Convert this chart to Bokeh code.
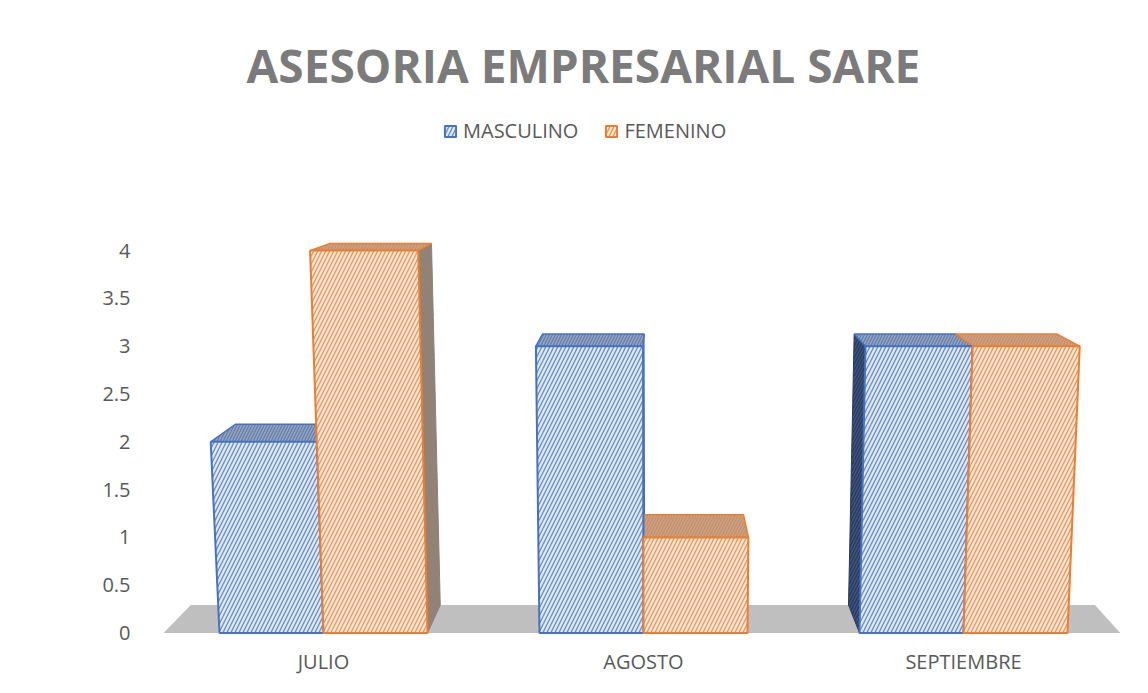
from bokeh.plotting import figure
from bokeh.models import Range1d, FixedTicker, Legend, LegendItem, Label
from bokeh.embed import file_html
from bokeh.resources import INLINE

# ---- data ----
months = ["JULIO", "AGOSTO", "SEPTIEMBRE"]
masculino = [2, 3, 3]
femenino = [4, 1, 3]
series_names = ["MASCULINO", "FEMENINO"]
y_ticks = [0, 0.5, 1, 1.5, 2, 2.5, 3, 3.5, 4]
y_tick_labels = ["0", "0.5", "1", "1.5", "2", "2.5", "3", "3.5", "4"]
title_text = "ASESORIA EMPRESARIAL SARE"

# ---- 3D look (styling geometry) ----
BAR_W = 0.325
VX, VY = 1.55, 5.33      # vanishing point in data units
DEPTH_S = 0.945          # back-plane scale
FAN = 0.01               # slight vertical fan
FLOOR_X = (0.0, 2.99)

def front(x, h):
    return VX + (x - VX) * (1 + FAN * h), h

def back(x, h):
    fx, fy = front(x, h)
    return VX + (fx - VX) * DEPTH_S, VY + (fy - VY) * DEPTH_S

def faces(xl, xr, v):
    f = [front(xl, 0), front(xr, 0), front(xr, v), front(xl, v)]
    t = [front(xl, v), front(xr, v), back(xr, v), back(xl, v)]
    r = [front(xr, 0), back(xr, 0), back(xr, v), front(xr, v)]
    l = [front(xl, 0), back(xl, 0), back(xl, v), front(xl, v)]
    return f, t, r, l

def split(polys):
    return [[q[0] for q in poly] for poly in polys], [[q[1] for q in poly] for poly in polys]

W, H = 1132, 677
p = figure(width=W, height=H, output_backend="svg", toolbar_location=None,
           x_range=Range1d(0, 3), y_range=Range1d(-0.047, 6.616),
           min_border_left=163, min_border_right=9, min_border_top=0, min_border_bottom=40)
p.grid.visible = False
p.outline_line_color = None
p.background_fill_color = "white"
p.border_fill_color = "white"

# floor
fl = [(FLOOR_X[0], 0), (FLOOR_X[1], 0), back(FLOOR_X[1], 0), back(FLOOR_X[0], 0)]
p.patch([q[0] for q in fl], [q[1] for q in fl], fill_color="#bfbfbf", line_color=None)

styles = {
    "MASCULINO": dict(line="#4472C4", fill="#e2e9f6", top="#9ea4ae", side="#2e3b56", side_hatch="#3f5f9a"),
    "FEMENINO": dict(line="#ED7D31", fill="#fde8da", top="#b3a79e", side="#8a827c", side_hatch="#a0826a"),
}

data = {"MASCULINO": masculino, "FEMENINO": femenino}
offsets = {"MASCULINO": -BAR_W, "FEMENINO": 0.0}

geo = {}
for name in series_names:
    fs, ts, ss = [], [], []
    for i, v in enumerate(data[name]):
        xl = i + 0.5 + offsets[name]
        xr = xl + BAR_W
        f, t, r, l = faces(xl, xr, v)
        fs.append(f); ts.append(t)
        if back(xr, 0)[0] > front(xr, 0)[0]:
            ss.append(r)
        if back(xl, 0)[0] < front(xl, 0)[0]:
            ss.append(l)
    geo[name] = (fs, ts, ss)

# sides
for name in series_names:
    st = styles[name]
    xs, ys = split(geo[name][2])
    if xs:
        p.patches(xs, ys, fill_color=st["side"], line_color=st["side"], line_width=1,
                  hatch_pattern="/", hatch_color=st["side_hatch"], hatch_scale=6, hatch_weight=1.2, hatch_alpha=0.8)
# tops
for name in series_names:
    st = styles[name]
    xs, ys = split(geo[name][1])
    p.patches(xs, ys, fill_color=st["top"], line_color=st["line"], line_width=1.5,
              hatch_pattern="/", hatch_color=st["line"], hatch_scale=6, hatch_weight=1.2, hatch_alpha=0.8)
# fronts
front_r = {}
for name in series_names:
    st = styles[name]
    xs, ys = split(geo[name][0])
    front_r[name] = p.patches(xs, ys, fill_color=st["fill"], line_color=st["line"], line_width=2,
                              hatch_pattern="/", hatch_color=st["line"], hatch_scale=8, hatch_weight=1.3, hatch_alpha=0.8)

# axes
FONT = "Open Sans"
p.yaxis.ticker = FixedTicker(ticks=y_ticks)
p.yaxis.major_label_overrides = {t: l for t, l in zip(y_ticks, y_tick_labels)}
p.xaxis.ticker = FixedTicker(ticks=[i + 0.5 for i in range(len(months))])
p.xaxis.major_label_overrides = {i + 0.5: m for i, m in enumerate(months)}
for ax in (p.xaxis[0], p.yaxis[0]):
    ax.axis_line_color = None
    ax.major_tick_line_color = None
    ax.minor_tick_line_color = None
    ax.major_tick_out = 0
    ax.major_tick_in = 0
    ax.major_label_text_font = FONT
    ax.major_label_text_font_size = "20px"
    ax.major_label_text_color = "#595959"
p.yaxis.major_label_standoff = 33
p.xaxis.major_label_standoff = 10

# title
p.add_layout(Label(x=1.3125, y=5.94, text=title_text, text_align="center", text_baseline="middle",
                   text_font=FONT, text_font_style="bold", text_font_size="46px", text_color="#7b7b7b"))

# legend
legend = Legend(items=[LegendItem(label=n, renderers=[front_r[n]]) for n in series_names],
                orientation="horizontal", location=(280, 493), glyph_width=14, glyph_height=14,
                label_standoff=6, spacing=26, padding=0, margin=0, border_line_color=None,
                background_fill_alpha=0, label_text_font=FONT, label_text_font_size="20px",
                label_text_color="#595959")
p.add_layout(legend)

open("out.html", "w").write(file_html(p, INLINE))
